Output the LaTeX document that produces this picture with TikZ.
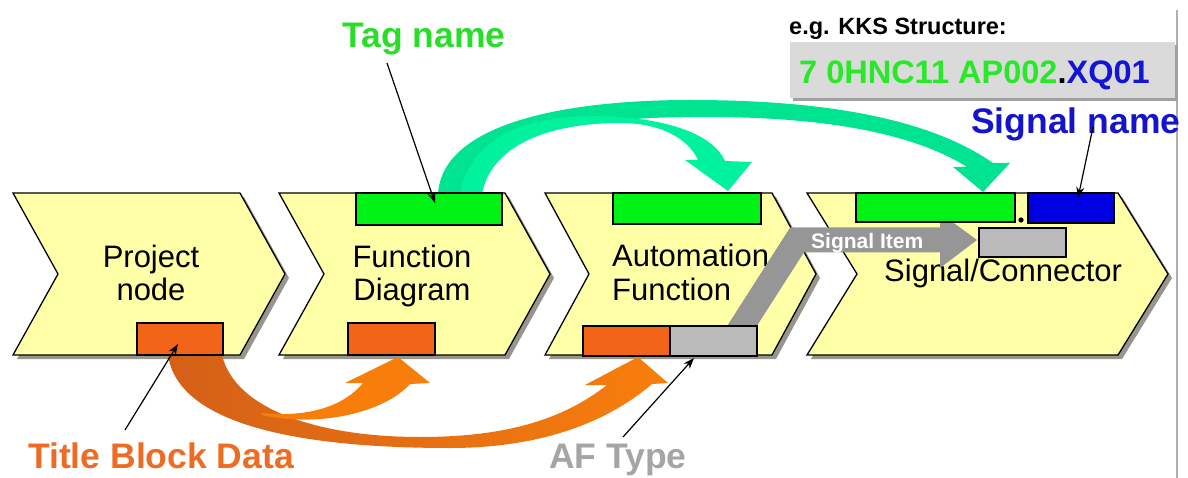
\documentclass[tikz,border=0pt]{standalone}
\usepackage{fontspec}
\setmainfont{Liberation Sans}
\usetikzlibrary{arrows.meta}

\definecolor{chevfill}{RGB}{255,255,168}
\definecolor{chevshade}{RGB}{150,150,140}
\definecolor{tagbox}{RGB}{0,242,20}
\definecolor{sigbox}{RGB}{0,0,228}
\definecolor{titlebox}{RGB}{242,100,24}
\definecolor{typebox}{RGB}{186,186,186}
\definecolor{kksfill}{RGB}{218,218,218}
\definecolor{kksedge}{RGB}{160,160,160}
\definecolor{rulegray}{RGB}{175,175,175}
\definecolor{mintA}{RGB}{0,228,145}
\definecolor{mintB}{RGB}{0,242,156}
\definecolor{orangeDark}{RGB}{212,96,24}
\definecolor{orangeLight}{RGB}{248,126,12}
\definecolor{itemgray}{RGB}{150,150,150}
\definecolor{tagtext}{RGB}{40,222,40}
\definecolor{sigtext}{RGB}{20,20,205}
\definecolor{titletext}{RGB}{236,108,36}
\definecolor{typetext}{RGB}{165,165,165}
\definecolor{kksgreen}{RGB}{40,232,40}
\definecolor{kksblue}{RGB}{20,20,215}

\begin{document}
\begin{tikzpicture}[x=1pt,y=-1pt,
  chev/.style={fill=chevfill, draw=black, line width=1.3pt, line join=miter},
  chevshadow/.style={fill=chevshade},
  fieldbox/.style={draw=black, line width=1.3pt, inner sep=0pt, outer sep=0pt, anchor=north west},
  chevtext/.style={inner sep=0pt, font=\fontsize{31}{33}\selectfont},
  biglabel/.style={inner sep=0pt, font=\bfseries\fontsize{35.5}{40}\selectfont},
  pointer/.style={draw=black, line width=1.2pt, -{Stealth[length=11pt,width=8pt]}}
]
\useasboundingbox (0,0) rectangle (1188,478);

% frame rule on the right
\draw[rulegray, line width=1.3pt] (1177,10) -- (1177,478);

% KKS example box
\fill[kksedge] (793,45) rectangle (1178,101);
\node[fill=kksfill, inner sep=0pt, outer sep=0pt, anchor=north west,
      minimum width=385pt, minimum height=56pt] (kks) at (790,42) {};
\node[inner sep=0pt, anchor=base west, font=\bfseries\fontsize{23.5}{26}\selectfont]
  (kkshead) at (789,35) {e.g. KKS Structure:};
\node[inner sep=0pt, anchor=base west, font=\bfseries\fontsize{32.5}{36}\selectfont]
  (kkscode) at (799,84) {{\color{kksgreen}7 0HNC11 AP002}{\color{black}.}{\color{kksblue}XQ01}};

% process chevrons with drop shadows
\foreach \xa/\xb/\d in {13/240/45, 279/505/45, 545/772/44, 807/1118/50} {
  \fill[chevshadow] (\xa+4,197) -- (\xb+4,197) -- (\xb+\d+4,278) -- (\xb+4,359)
        -- (\xa+4,359) -- (\xa+\d+4,278) -- cycle;
  \draw[chev] (\xa,193) -- (\xb,193) -- (\xb+\d,274) -- (\xb,355)
        -- (\xa,355) -- (\xa+\d,274) -- cycle;
}

% chevron captions
\node[chevtext, anchor=base] (pn1) at (151,268) {Project};
\node[chevtext, anchor=base] (pn2) at (151,300) {node};
\node[chevtext, anchor=base] (fd1) at (412,268) {Function};
\node[chevtext, anchor=base] (fd2) at (412,300) {Diagram};
\node[chevtext, anchor=base west] (af1) at (612,267) {Automation};
\node[chevtext, anchor=base west] (af2) at (612,300) {Function};
\node[chevtext, anchor=base west] (sc1) at (884,282) {Signal/Connector};

% tag name flow (green curved arrows)
\fill[mintA] (438,194) .. controls (442,125) and (560,100) .. (690,100)
  .. controls (800,100) and (920,112) .. (993,163)
  -- (1010,163) -- (983,192) -- (953,167) -- (967,167)
  .. controls (900,125) and (790,116) .. (690,117)
  .. controls (580,118) and (478,135) .. (466,194) -- cycle;
\fill[mintB] (482,194) .. controls (490,150) and (540,123) .. (620,123)
  .. controls (660,123) and (688,138) .. (698,160)
  -- (685,160) -- (728,191) -- (752,162) -- (725,161)
  .. controls (712,132) and (660,116) .. (590,116)
  .. controls (520,117) and (470,140) .. (460,194) -- cycle;

% title block flow (orange curved arrows)
\shade[left color=orangeDark, right color=orangeLight]
  (168,355) .. controls (178,425) and (300,448) .. (450,448)
  .. controls (545,448) and (610,420) .. (652,384)
  -- (668,383) -- (638,357) -- (585,385) -- (607,385)
  .. controls (560,422) and (500,437) .. (420,437)
  .. controls (320,437) and (235,410) .. (222,355) -- cycle;
\fill[orangeLight] (262,415) .. controls (320,428) and (385,412) .. (410,384)
  -- (430,383) -- (398,357) -- (345,383) -- (363,383)
  .. controls (345,405) and (310,418) .. (262,413) -- cycle;

% signal item flow (grey bent arrow)
\draw[itemgray, line width=25pt, line join=miter] (733,340) -- (797,240) -- (942,240);
\fill[itemgray] (940,213) -- (977,240) -- (940,268) -- cycle;
\node[inner sep=0pt, anchor=base west, text=white, font=\bfseries\fontsize{21}{24}\selectfont]
  (item) at (811,249) {Signal Item};

% data fields inside the chevrons
\node[fieldbox, fill=titlebox, minimum width=86pt, minimum height=32pt] (pnT) at (137,323) {};
\node[fieldbox, fill=titlebox, minimum width=87pt, minimum height=32pt] (fdT) at (348,323) {};
\node[fieldbox, fill=tagbox, minimum width=146pt, minimum height=32pt] (fdG) at (356,193) {};
\node[fieldbox, fill=tagbox, minimum width=148pt, minimum height=31pt] (afG) at (613,193) {};
\node[fieldbox, fill=titlebox, minimum width=87pt, minimum height=30pt] (afT) at (583,326) {};
\node[fieldbox, fill=typebox, minimum width=87pt, minimum height=30pt] (afY) at (670,326) {};
\node[fieldbox, fill=tagbox, minimum width=159pt, minimum height=29pt] (scG) at (856,193) {};
\node[fieldbox, fill=sigbox, minimum width=86pt, minimum height=30pt] (scB) at (1028,193) {};
\node[fieldbox, fill=typebox, minimum width=87pt, minimum height=29pt] (scY) at (979,228) {};
\fill[black] (1021,220) circle (2.6);

% labels
\node[biglabel, text=tagtext, anchor=base] (tag) at (424,48) {Tag name};
\node[biglabel, text=sigtext, anchor=base west] (sig) at (971,134) {Signal name};
\node[biglabel, text=titletext, anchor=base west] (title) at (28,468) {Title Block Data};
\node[biglabel, text=typetext, anchor=base west] (aftype) at (549,468) {AF Type};

% label pointers
\coordinate (tagtail) at (387,63);
\coordinate (taghead) at (435,203);
\coordinate (sigtail) at (1093,127);
\coordinate (sighead) at (1078,198);
\coordinate (titletail) at (125,430);
\coordinate (titlehead) at (178,344);
\coordinate (typetail) at (623,437);
\coordinate (typehead) at (694,358);
\draw[pointer] (tagtail) -- (taghead);
\draw[pointer] (sigtail) -- (sighead);
\draw[pointer] (titletail) -- (titlehead);
\draw[pointer] (typetail) -- (typehead);
\end{tikzpicture}
\end{document}
